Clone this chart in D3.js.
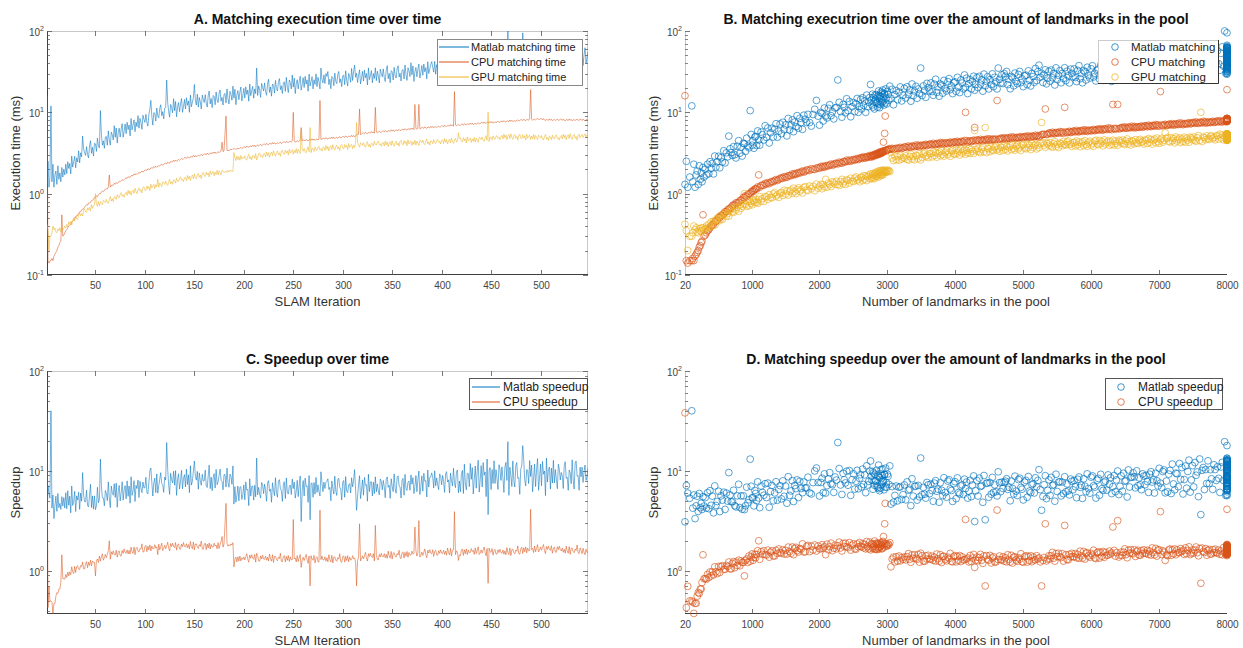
<!DOCTYPE html>
<html><head><meta charset="utf-8">
<script src="https://cdn.jsdelivr.net/npm/d3@7"></script>
<style>
html,body{margin:0;padding:0;background:#fff;}
svg{display:block;font-family:"Liberation Sans",Arial,sans-serif;}
</style></head>
<body><svg id="chart" width="1243" height="648"></svg>
<script>
// ---------- DATA (one value per SLAM iteration 1..548) ----------
const iterations = d3.range(1, 549);
const landmarks = [
20,40,60,90,120,135,150,168,185,200,215,230,245,258,270,285,300,318,335,352,
370,388,405,422,440,458,475,495,515,532,550,570,590,610,630,648,665,683,700,718,
735,752,770,790,810,828,845,862,880,895,910,928,945,962,980,995,1010,1022,1035,1048,
1060,1075,1090,1105,1120,1140,1160,1180,1200,1220,1240,1260,1280,1300,1320,1340,1360,1380,1400,1420,
1440,1460,1480,1500,1520,1540,1560,1580,1600,1618,1635,1652,1670,1690,1710,1730,1750,1770,1790,1810,
1830,1855,1880,1905,1930,1955,1980,2000,2020,2038,2055,2072,2090,2110,2130,2150,2170,2190,2210,2230,
2250,2270,2290,2310,2330,2348,2365,2382,2400,2420,2440,2460,2480,2500,2520,2538,2555,2572,2590,2605,
2620,2635,2650,2665,2680,2695,2710,2725,2740,2752,2765,2772,2780,2788,2795,2802,2810,2818,2825,2832,
2840,2848,2855,2862,2870,2875,2880,2885,2890,2895,2900,2908,2915,2920,2925,2930,2935,2942,2950,2955,
2960,2968,2975,2982,2990,3000,3010,3022,3035,3052,3070,3090,3110,3130,3150,3170,3190,3210,3230,3250,
3270,3290,3310,3328,3345,3362,3380,3400,3420,3438,3455,3472,3490,3510,3530,3548,3565,3582,3600,3620,
3640,3658,3675,3692,3710,3728,3745,3762,3780,3798,3815,3832,3850,3870,3890,3908,3925,3942,3960,3978,
3995,4012,4030,4048,4065,4082,4100,4118,4135,4150,4165,4182,4200,4218,4235,4252,4270,4285,4300,4318,
4335,4352,4370,4388,4405,4422,4440,4458,4475,4492,4510,4528,4545,4562,4580,4598,4615,4632,4650,4668,
4685,4702,4720,4738,4755,4772,4790,4808,4825,4842,4860,4878,4895,4912,4930,4948,4965,4982,5000,5020,
5040,5058,5075,5092,5110,5128,5145,5162,5180,5198,5215,5232,5250,5270,5290,5308,5325,5342,5360,5378,
5395,5412,5430,5448,5465,5482,5500,5520,5540,5558,5575,5592,5610,5628,5645,5662,5680,5698,5715,5732,
5750,5768,5785,5802,5820,5838,5855,5872,5890,5908,5925,5942,5960,5980,6000,6018,6035,6052,6070,6088,
6105,6122,6140,6158,6175,6192,6210,6230,6250,6268,6285,6302,6320,6338,6355,6372,6390,6408,6425,6442,
6460,6478,6495,6512,6530,6548,6565,6582,6600,6618,6635,6652,6670,6688,6705,6722,6740,6758,6775,6792,
6810,6828,6845,6862,6880,6898,6915,6932,6950,6968,6985,7002,7020,7038,7055,7072,7090,7108,7125,7142,
7160,7178,7195,7212,7230,7248,7265,7282,7300,7318,7335,7352,7370,7388,7405,7422,7440,7458,7475,7492,
7510,7528,7545,7562,7580,7598,7615,7632,7650,7668,7685,7702,7720,7738,7755,7772,7790,7808,7825,7842,
7860,7878,7895,7912,7930,7948,7965,7982,8000,8000,8000,8000,8000,8000,8000,8000,8000,8000,8000,8000,
8000,8000,8000,8000,8000,8000,8000,8000,8000,8000,8000,8000,8000,8000,8000,8000,8000,8000,8000,8000,
8000,8000,8000,8000,8000,8000,8000,8000,8000,8000,8000,8000,8000,8000,8000,8000,8000,8000,8000,8000,
8000,8000,8000,8000,8000,8000,8000,8000,8000,8000,8000,8000,8000,8000,8000,8000,8000,8000,8000,8000,
8000,8000,8000,8000,8000,8000,8000,8000];
const matlabTime = [
1.3,2.5,1.2,1.6,12,1.4,2.3,1.2,1.7,1.9,1.3,2.2,1.5,1.8,1.4,2.1,1.6,2.0,1.7,2.3,
1.76,2.47,2.04,2.35,1.75,2.90,2.12,2.47,2.88,2.08,2.76,2.45,3.37,2.39,3.18,2.84,5.1,3.56,3.20,2.95,
3.78,3.01,2.75,3.83,4.48,3.14,3.71,2.90,4.17,4.10,3.31,4.81,3.84,3.66,10.5,5.34,3.94,4.46,3.62,4.97,
5.06,3.93,5.91,4.56,3.95,5.72,5.30,4.57,6.85,4.93,6.42,4.20,5.61,6.37,4.97,6.21,7.25,4.94,5.87,7.19,
5.46,7.55,6.13,7.00,5.13,8.40,6.09,7.00,8.07,5.78,7.58,6.66,9.10,6.39,8.43,7.47,6.18,9.22,8.23,7.52,
9.44,7.48,6.77,9.40,10.9,14,8.97,6.96,9.96,9.73,7.83,11.3,9.00,8.54,11.2,12.4,9.09,10.2,8.30,11.3,
11.5,25,13.3,10.2,8.72,12.5,11.5,9.86,14.7,10.5,13.6,8.82,11.7,13.2,10.2,12.7,14.8,10.0,11.8,14.4,
11.0,15.1,12.2,13.8,10.0,16.3,11.7,13.3,15.2,22,14.1,12.3,16.7,11.6,15.2,13.4,11.0,16.3,14.5,13.2,
16.5,13.0,11.6,16.0,18.3,12.7,14.8,11.4,16.1,15.6,12.4,17.8,14.1,13.2,17.2,18.8,13.7,15.3,12.3,16.7,
17.1,13.1,19.4,14.8,12.7,18.1,16.6,14.1,21.0,14.9,19.2,12.4,16.5,18.5,14.3,17.7,20.5,13.8,16.2,19.7,
15.0,20.6,16.6,18.8,13.7,22.3,16.0,18.3,20.9,14.9,19.4,17.0,35,16.1,21.1,18.6,15.3,22.7,20.1,18.3,
23.0,18.0,16.2,22.2,25.5,17.6,20.5,15.8,22.3,21.6,17.2,24.7,19.5,18.3,23.8,26.0,19.0,21.2,17.0,23.1,
23.7,18.1,26.9,20.4,17.5,25.0,22.9,19.4,28.8,20.4,26.3,17.0,22.5,25.2,19.4,24.0,27.8,18.7,22.0,26.7,
20.2,27.7,22.2,25.1,18.2,29.5,21.1,24.0,27.4,19.4,25.2,22.0,29.7,20.7,27.0,23.7,19.4,35,25.4,23.0,
28.9,22.6,30,27.7,31.8,21.9,25.5,19.5,27.6,26.7,21.2,30.4,23.9,22.5,29.2,31.8,23.2,25.8,20.7,28.1,
28.6,21.9,32.4,24.7,21.1,30.1,27.5,23.4,34.6,24.6,31.6,38,27.0,30.3,23.3,28.8,33.3,22.4,26.3,31.9,
24.2,33.1,26.6,30.0,21.7,35.2,25.2,28.6,32.6,23.1,30.0,26.1,35.3,24.5,32.0,28.1,23.0,34.0,30.1,27.3,
34.2,26.8,23.9,32.8,37.5,25.9,30.1,23.1,32.6,31.5,25.0,35.8,28.2,26.4,34.3,37.4,27.2,30.3,24.3,32.9,
33.6,25.7,38.1,29.0,24.7,35.3,32.3,27.5,40.7,28.9,37.2,24.0,31.7,35.6,27.4,33.9,39.2,26.4,31.0,37.6,
28.6,39.2,31.5,35.5,25.8,41.8,30.0,34.1,38.9,42,35.9,31.2,42.3,29.4,38.5,33.8,27.7,41.0,36.3,32.9,
41.3,32.4,29.0,39.7,45.6,31.5,36.7,28.2,39.9,38.6,30.7,44.1,34.7,32.6,42.4,46.3,33.8,37.7,30.3,41.0,
43.7,29.0,52.3,35.2,27.2,47.3,41.6,32.4,57.5,35.1,50.9,25.8,40.5,48.1,32.3,44.9,55.0,30.4,39.3,52.1,
34.4,54.8,39.8,47.6,28.6,59.5,36.5,44.4,53.6,31.7,47.5,38.5,59.7,34.8,52.2,43.0,31.2,56.8,47.5,41.0,
57.2,39.6,32.9,53.1,63.9,36.9,100,30.2,51.8,49.1,34.2,58.5,41.0,36.9,54.5,61.2,38.3,45.0,31.5,50.4,
52.9,95,62.6,41.9,32.2,55.7,48.8,37.7,66.7,40.5,58.4,29.4,46.0,54.3,36.3,50.1,61.2,33.6,43.2,57.0,
36.9,58.5,42.3,50.4,30.2,62.6,38.3,46.4,55.8,32.9,49.1,39.6,61.2,35.6,53.1,43.7,31.5,57.2,47.7,41.0,
50.2,41.8,36.0,55.3,65,38.7,44.1,33.9,48.6,52.4,36.5,60.1,42.7,35.2,57.9,63.5,40.3,47.2,34.6,52.8,
44.5,58.3,37.6,50.9,62.4,39.8,46.7,55.2];
const cpuTime = [
16,0.15,0.14,0.15,0.15,0.16,0.15,0.17,0.18,0.19,0.20,0.22,0.23,0.25,0.26,0.55,0.30,0.31,0.33,0.35,
0.36,0.38,0.40,0.41,0.42,0.45,0.46,0.47,0.51,0.51,0.54,0.54,0.57,0.60,0.60,0.63,0.65,0.65,0.68,0.71,
0.73,0.72,0.77,0.77,0.78,0.82,0.83,0.85,0.90,0.89,0.94,0.92,0.97,1.00,1.00,1.05,1.08,1.06,1.10,1.14,
1.15,1.14,1.21,1.70,1.20,1.26,1.27,1.27,1.34,1.31,1.37,1.33,1.38,1.41,1.40,1.45,1.49,1.45,1.49,1.54,
1.56,1.54,1.62,1.59,1.59,1.66,1.67,1.66,1.75,1.70,1.77,1.72,1.78,1.82,1.79,1.85,1.90,1.84,1.89,1.95,
1.96,1.93,2.03,1.99,1.98,2.07,2.07,2.06,2.16,2.10,2.18,2.11,2.18,2.22,2.19,2.25,2.31,2.23,2.29,2.35,
2.36,2.32,2.44,2.39,2.37,2.48,2.47,2.46,2.58,2.49,2.59,2.50,2.58,2.63,2.58,2.65,2.71,2.63,2.69,2.76,
2.77,2.71,2.84,2.77,2.74,2.85,2.84,2.81,2.95,2.84,2.95,2.83,2.92,2.96,2.91,2.97,3.04,2.93,3.00,3.07,
3.07,3.00,3.15,3.06,3.04,3.16,3.15,3.11,3.25,3.14,3.25,3.12,3.22,3.26,3.20,3.28,3.35,4.3,3.28,3.37,
5.5,9.0,3.40,3.41,3.38,3.47,3.50,3.48,3.58,3.51,3.61,3.50,3.56,3.62,3.57,3.63,3.71,3.60,3.65,3.75,
3.76,3.68,3.85,3.74,3.72,3.85,3.83,3.78,3.96,3.81,3.95,3.78,3.90,3.95,3.87,3.96,4.04,3.89,3.97,4.06,
4.07,3.97,4.16,4.03,4.00,4.14,4.12,4.06,4.25,4.09,4.23,4.05,4.17,4.22,4.13,4.22,4.31,4.14,4.22,4.32,
4.32,4.22,4.41,4.28,4.24,4.39,4.36,4.30,4.50,10.0,4.47,4.28,4.41,4.46,4.36,4.46,4.55,6.5,4.45,4.56,
4.56,4.45,4.65,4.51,4.46,4.62,4.59,4.53,4.73,4.55,4.70,4.51,4.64,4.69,4.58,4.69,14.0,4.63,4.68,4.79,
4.80,4.68,4.89,4.74,4.69,4.86,4.83,4.76,4.98,4.79,4.95,4.74,4.88,4.93,4.82,4.93,5.03,4.86,4.92,5.04,
5.05,4.92,5.14,4.98,4.93,5.10,5.07,5.00,5.23,5.03,5.19,4.98,5.12,5.30,5.35,5.38,11.0,5.33,5.40,5.55,
5.58,5.45,5.69,5.52,5.46,5.65,5.62,5.55,5.80,5.58,5.76,5.53,11.5,5.73,5.61,5.73,5.85,5.65,5.72,5.86,
5.88,5.74,5.99,5.81,5.75,5.95,5.92,5.84,6.10,5.87,6.06,5.82,5.98,6.04,5.91,6.03,6.16,5.95,6.02,6.17,
6.19,6.04,6.30,6.12,6.05,6.26,6.23,6.15,6.42,6.18,6.38,6.12,12.5,6.34,6.21,6.34,12.5,6.26,6.33,6.49,
6.51,6.35,6.63,6.43,6.36,6.58,6.55,6.46,6.75,6.49,6.70,6.43,6.59,6.66,6.52,6.66,6.80,6.57,6.64,6.81,
6.83,6.66,6.95,6.74,6.67,6.90,6.86,6.77,7.07,6.80,7.02,6.74,18.0,6.98,6.83,6.97,7.12,6.88,6.95,7.13,
7.15,6.97,7.27,7.05,6.98,7.22,7.18,7.08,7.40,7.12,7.35,7.05,7.22,7.30,7.15,7.30,7.46,7.21,7.28,7.47,
7.50,7.31,7.62,7.39,7.31,7.56,7.51,7.41,7.74,7.44,7.68,7.37,7.54,7.62,7.46,7.61,7.77,7.51,7.58,7.77,
7.80,7.60,7.92,7.68,7.60,7.86,7.81,7.70,8.05,7.74,7.99,7.67,7.84,7.92,7.76,7.92,8.09,7.82,7.90,8.10,
8.12,7.91,8.25,7.99,7.90,8.17,8.12,8.01,8.37,19.0,8.31,7.97,8.15,8.24,8.07,8.24,8.41,8.13,8.21,8.42,
8.35,8.06,8.37,8.04,7.93,8.18,8.10,7.98,8.33,7.99,8.22,7.87,8.05,8.15,7.96,8.10,8.27,7.98,8.05,8.24,
8.20,7.95,8.27,7.98,7.88,8.14,8.07,7.95,8.30,7.97,8.20,7.86,8.04,8.13,7.95,8.08,8.25,7.96,8.03,8.22,
8.18,7.94,8.26,7.99,7.90,8.15,8.08,8.02];
const gpuTime = [
0.42,0.35,0.20,0.30,0.30,0.33,0.40,0.36,0.38,0.34,0.33,0.37,0.35,0.38,0.34,0.38,0.36,0.37,0.40,0.38,
0.42,0.39,0.45,0.42,0.46,0.41,0.47,0.50,0.46,0.53,0.49,0.48,0.55,0.58,0.53,0.57,0.53,0.62,0.65,0.60,
0.59,0.67,0.63,0.68,0.61,0.73,0.66,0.70,0.74,1.00,0.74,0.70,0.80,0.71,0.80,0.76,0.73,0.83,0.81,0.78,
0.85,0.78,0.76,0.85,0.92,0.81,0.87,0.80,0.92,0.91,0.85,0.97,0.90,0.89,0.99,1.03,0.93,0.97,0.90,1.01,
1.04,0.95,1.10,0.99,1.08,0.96,1.07,1.11,1.01,1.17,1.06,1.00,1.12,1.18,1.07,1.12,1.02,1.19,1.22,1.11,
1.09,1.24,1.15,1.23,1.09,1.31,1.17,1.24,1.30,1.15,1.29,1.21,1.50,1.20,1.35,1.29,1.22,1.40,1.36,1.30,
1.42,1.30,1.26,1.41,1.50,1.32,1.41,1.30,1.48,1.46,1.35,1.55,1.43,1.41,1.55,1.61,1.46,1.51,1.40,1.57,
1.59,1.45,1.67,1.51,1.65,1.45,1.62,1.69,1.52,1.75,1.59,1.52,1.69,1.77,1.59,1.69,1.53,1.76,1.83,1.65,
1.62,1.84,1.70,1.80,1.60,1.91,1.71,1.80,1.88,1.66,1.84,1.72,1.94,1.70,1.91,1.80,1.70,1.95,1.90,1.81,
1.86,1.90,1.82,1.93,1.85,1.95,1.88,1.92,1.87,3.20,2.75,2.55,2.90,2.62,2.85,2.58,2.95,2.66,2.80,2.72,
2.92,2.65,2.59,2.87,3.05,2.67,2.86,2.61,2.96,2.92,2.71,3.09,2.60,2.79,3.08,3.18,2.86,2.96,2.77,3.09,
3.12,2.83,3.26,2.94,3.19,2.81,3.12,3.25,2.93,3.37,3.04,2.89,3.21,3.35,3.01,3.18,2.88,3.33,3.43,3.10,
3.04,3.43,3.16,3.36,2.98,3.54,3.16,3.34,3.48,3.06,3.40,3.18,3.59,3.13,3.51,3.32,3.12,6.00,3.48,3.33,
3.60,3.27,3.18,3.53,3.75,3.28,6.50,3.19,3.62,3.56,3.29,3.76,3.45,3.39,3.72,3.83,3.45,3.57,3.33,3.71,
3.74,3.39,3.91,3.51,3.81,3.35,3.72,3.88,3.48,4.00,3.61,3.43,3.81,3.96,3.56,3.76,3.39,3.93,4.04,3.64,
3.56,4.02,3.69,3.93,3.48,4.13,3.69,3.89,4.05,3.55,3.94,3.69,4.16,7.50,4.20,3.96,3.72,4.24,4.12,3.92,
4.24,3.84,3.72,4.12,4.36,3.80,4.05,3.70,4.18,4.11,3.88,4.41,4.04,3.96,4.32,4.45,4.00,4.10,3.82,4.22,
4.26,3.86,4.43,3.98,4.31,3.78,4.19,4.35,3.90,4.48,4.03,3.83,4.24,4.41,3.96,4.19,3.83,4.41,4.54,4.07,
3.99,4.50,4.12,4.37,3.87,4.58,4.08,4.29,4.46,3.92,4.34,4.04,4.55,3.96,4.42,4.17,3.93,4.55,4.42,4.21,
4.56,4.13,4.00,4.43,4.70,4.09,4.35,3.96,4.48,4.39,4.12,4.61,4.22,4.14,4.52,4.66,4.27,4.39,4.09,4.53,
4.58,4.14,4.76,4.28,4.64,4.07,4.51,4.69,4.21,4.84,4.35,4.15,4.60,4.79,4.30,4.53,5.60,4.76,4.90,4.41,
4.32,4.88,4.47,4.75,4.21,4.98,4.44,4.66,4.85,4.26,4.71,4.39,4.94,4.30,4.81,4.55,4.29,4.95,4.83,4.61,
4.98,4.52,4.40,4.87,5.17,4.52,10.0,4.38,4.96,4.87,4.60,5.14,4.73,4.65,5.07,5.16,4.78,4.93,4.60,5.10,
5.20,4.70,5.40,4.85,5.25,4.60,5.10,5.30,4.75,5.45,4.90,4.65,5.15,5.35,4.80,5.05,4.55,5.25,5.40,4.85,
4.70,5.30,4.85,5.15,4.55,5.40,4.80,5.05,5.25,4.60,5.10,4.75,5.35,4.65,5.20,4.90,4.60,5.25,5.10,4.85,
5.19,4.70,4.56,5.05,5.34,4.66,4.95,4.51,5.10,5.00,4.61,5.24,4.80,4.70,5.15,5.29,4.75,4.90,4.56,5.05,
5.20,4.70,5.40,4.85,5.25,4.60,5.10,5.30,4.75,5.45,4.90,4.65,5.15,5.35,4.80,5.05,4.55,5.25,5.40,4.85,
5.10,5.35,4.90,5.20,5.45,4.95,5.30,5.15];
const matlabSpeedup = matlabTime.map((v, i) => v / gpuTime[i]);
const cpuSpeedup = cpuTime.map((v, i) => v / gpuTime[i]);

const iterTicks = [50,100,150,200,250,300,350,400,450,500];
const landmarkTicks = [20,1000,2000,3000,4000,5000,6000,7000,8000];

const titles = ["A. Matching execution time over time",
  "B. Matching executrion time over the amount of landmarks in the pool",
  "C. Speedup over time",
  "D. Matching speedup over the amount of landmarks in the pool"];
const legendA = ["Matlab matching time","CPU matching time","GPU matching time"];
const legendB = ["Matlab matching","CPU matching","GPU matching"];
const legendCD = ["Matlab speedup","CPU speedup"];
const colors = ["#0072BD","#D95319","#EDB120"];

// ---------- DRAWING ----------
const svg = d3.select("#chart");
const FONT = '"Liberation Sans",Arial,sans-serif';
const AX_DARK = "#404040", AX_LIGHT = "#c8c8c8";

function logTicks(dom) {
  const major = [], minor = [];
  for (let e = -2; e <= 2; e++) {
    const d = Math.pow(10, e);
    if (d >= dom[0] - 1e-9 && d <= dom[1] + 1e-9) major.push(d);
    for (let m = 2; m <= 9; m++) {
      const v = m * d;
      if (v >= dom[0] && v <= dom[1]) minor.push(v);
    }
  }
  return {major, minor};
}

function panel(cfg) {
  const {L, R, T, B, xDomain, yDomain, xTicks, kind, boxFull} = cfg;
  const g = svg.append("g");
  const x = d3.scaleLinear().domain(xDomain).range([L, R]);
  const y = d3.scaleLog().domain(yDomain).range([B, T]);
  const id = "clip" + cfg.name;
  svg.append("clipPath").attr("id", id).append("rect")
     .attr("x", L).attr("y", T).attr("width", R - L).attr("height", B - T);

  if (boxFull) {
    g.append("line").attr("x1", L).attr("x2", R).attr("y1", T + 0.5).attr("y2", T + 0.5).attr("stroke", AX_LIGHT);
    g.append("line").attr("x1", R - 0.5).attr("x2", R - 0.5).attr("y1", T).attr("y2", B).attr("stroke", AX_LIGHT);
    g.append("line").attr("x1", L + 0.5).attr("x2", L + 0.5).attr("y1", T).attr("y2", B).attr("stroke", AX_DARK);
  } else {
    g.append("line").attr("x1", L + 0.5).attr("x2", L + 0.5).attr("y1", T).attr("y2", B).attr("stroke", AX_LIGHT);
  }
  g.append("line").attr("x1", L).attr("x2", R).attr("y1", B - 0.5).attr("y2", B - 0.5).attr("stroke", AX_DARK);

  const lt = logTicks(yDomain);
  const tickCol = "#555";
  lt.major.forEach(v => {
    const yy = Math.round(y(v)) + 0.5;
    g.append("line").attr("x1", L).attr("x2", L + 5).attr("y1", yy).attr("y2", yy).attr("stroke", tickCol).attr("stroke-width", 0.8);
    if (boxFull) g.append("line").attr("x1", R - 5).attr("x2", R).attr("y1", yy).attr("y2", yy).attr("stroke", tickCol).attr("stroke-width", 0.8);
    const e = Math.round(Math.log10(v));
    const t = g.append("text").attr("x", L - 3).attr("y", yy + 4).attr("text-anchor", "end")
      .attr("font-size", 10).attr("fill", "#444").attr("font-family", FONT);
    t.append("tspan").text("10");
    t.append("tspan").attr("dy", -5).attr("font-size", 7).text(e);
  });
  lt.minor.forEach(v => {
    const yy = Math.round(y(v)) + 0.5;
    g.append("line").attr("x1", L).attr("x2", L + 3).attr("y1", yy).attr("y2", yy).attr("stroke", tickCol).attr("stroke-width", 0.7);
    if (boxFull) g.append("line").attr("x1", R - 3).attr("x2", R).attr("y1", yy).attr("y2", yy).attr("stroke", tickCol).attr("stroke-width", 0.7);
  });
  xTicks.forEach(v => {
    const xx = Math.round(x(v)) + 0.5;
    if (v !== xDomain[0] && v !== xDomain[1]) {
      g.append("line").attr("x1", xx).attr("x2", xx).attr("y1", B).attr("y2", B - 5).attr("stroke", tickCol).attr("stroke-width", 0.8);
      if (boxFull) g.append("line").attr("x1", xx).attr("x2", xx).attr("y1", T).attr("y2", T + 5).attr("stroke", tickCol).attr("stroke-width", 0.8);
    }
    g.append("text").attr("x", xx).attr("y", B + 14).attr("text-anchor", "middle")
      .attr("font-size", 10).attr("fill", "#444").attr("font-family", FONT).text(v);
  });
  g.append("text").attr("x", (L + R) / 2).attr("y", T - 7).attr("text-anchor", "middle")
    .attr("font-size", 14).attr("font-weight", "bold").attr("fill", "#111").attr("font-family", FONT).text(cfg.title);
  g.append("text").attr("x", (L + R) / 2).attr("y", B + 31).attr("text-anchor", "middle")
    .attr("font-size", 13).attr("fill", "#333").attr("font-family", FONT).text(cfg.xLabel);
  g.append("text").attr("transform", `translate(${L - 27},${(T + B) / 2}) rotate(-90)`).attr("text-anchor", "middle")
    .attr("font-size", 13).attr("fill", "#333").attr("font-family", FONT).text(cfg.yLabel);

  const dg = g.append("g");
  cfg.series.forEach((s, si) => {
    const pts = cfg.xs.map((xv, i) => [xv, s[i]]);
    if (kind === "line") {
      dg.append("path").attr("clip-path", `url(#${id})`)
        .attr("d", d3.line().x(d => x(d[0])).y(d => y(d[1]))(pts))
        .attr("fill", "none").attr("stroke", colors[si]).attr("stroke-width", 0.6)
        .attr("stroke-opacity", 0.9).attr("stroke-linejoin", "round");
    } else {
      dg.selectAll(null).data(pts).enter().append("circle")
        .attr("cx", d => x(d[0])).attr("cy", d => y(d[1])).attr("r", 3.4)
        .attr("fill", "none").attr("stroke", colors[si]).attr("stroke-width", 0.65);
    }
  });

  const lg = cfg.legend;
  const lgG = g.append("g");
  lgG.append("rect").attr("x", lg.x0 + 0.5).attr("y", lg.y0 + 0.5).attr("width", lg.x1 - lg.x0).attr("height", lg.y1 - lg.y0)
    .attr("fill", "#fff").attr("stroke", lg.border).attr("stroke-width", 1);
  if (lg.darkRB) {
    lgG.append("path").attr("d", `M${lg.x1 + 0.5},${lg.y0} V${lg.y1 + 0.5} H${lg.x0}`).attr("fill", "none").attr("stroke", "#333");
  }
  lg.labels.forEach((txt, i) => {
    const yy = lg.rows[i];
    if (kind === "line") {
      lgG.append("line").attr("x1", lg.mx0).attr("x2", lg.mx1).attr("y1", yy).attr("y2", yy)
        .attr("stroke", colors[i]).attr("stroke-width", 1);
    } else {
      lgG.append("circle").attr("cx", lg.mx0).attr("cy", yy).attr("r", 3.3)
        .attr("fill", "none").attr("stroke", colors[i]).attr("stroke-width", 0.75);
    }
    lgG.append("text").attr("x", lg.tx).attr("y", yy + 4).attr("font-size", lg.fs).attr("fill", "#222")
      .attr("font-family", FONT).text(txt);
  });
}

panel({name: "A", L: 47, R: 588, T: 31, B: 275, xDomain: [1, 548], yDomain: [0.1, 100],
  xTicks: iterTicks, kind: "line", boxFull: true, title: titles[0], xLabel: "SLAM Iteration",
  yLabel: "Execution time (ms)", xs: iterations, series: [matlabTime, cpuTime, gpuTime],
  legend: {x0: 437, x1: 582, y0: 39, y1: 85, rows: [47, 62, 77], mx0: 439, mx1: 469, tx: 471, fs: 11,
    labels: legendA, border: "#888"}});

panel({name: "B", L: 685, R: 1227, T: 31, B: 275, xDomain: [20, 8000], yDomain: [0.1, 100],
  xTicks: landmarkTicks, kind: "scatter", boxFull: false, title: titles[1],
  xLabel: "Number of landmarks in the pool", yLabel: "Execution time (ms)", xs: landmarks,
  series: [matlabTime, cpuTime, gpuTime],
  legend: {x0: 1098, x1: 1218, y0: 40, y1: 83, rows: [47, 62, 77], mx0: 1115, tx: 1131, fs: 11.5,
    labels: legendB, border: "#ccc", darkRB: true}});

panel({name: "C", L: 47, R: 588, T: 371, B: 614, xDomain: [1, 548], yDomain: [0.37, 100],
  xTicks: iterTicks, kind: "line", boxFull: true, title: titles[2], xLabel: "SLAM Iteration",
  yLabel: "Speedup", xs: iterations, series: [matlabSpeedup, cpuSpeedup],
  legend: {x0: 469, x1: 587, y0: 378, y1: 409, rows: [387, 402], mx0: 472, mx1: 500, tx: 503, fs: 12,
    labels: legendCD, border: "#555"}});

panel({name: "D", L: 685, R: 1227, T: 371, B: 614, xDomain: [20, 8000], yDomain: [0.37, 100],
  xTicks: landmarkTicks, kind: "scatter", boxFull: false, title: titles[3],
  xLabel: "Number of landmarks in the pool", yLabel: "Speedup", xs: landmarks,
  series: [matlabSpeedup, cpuSpeedup],
  legend: {x0: 1105, x1: 1222, y0: 378, y1: 409, rows: [387, 402], mx0: 1121, tx: 1138, fs: 12,
    labels: legendCD, border: "#555"}});
</script>
</body></html>
